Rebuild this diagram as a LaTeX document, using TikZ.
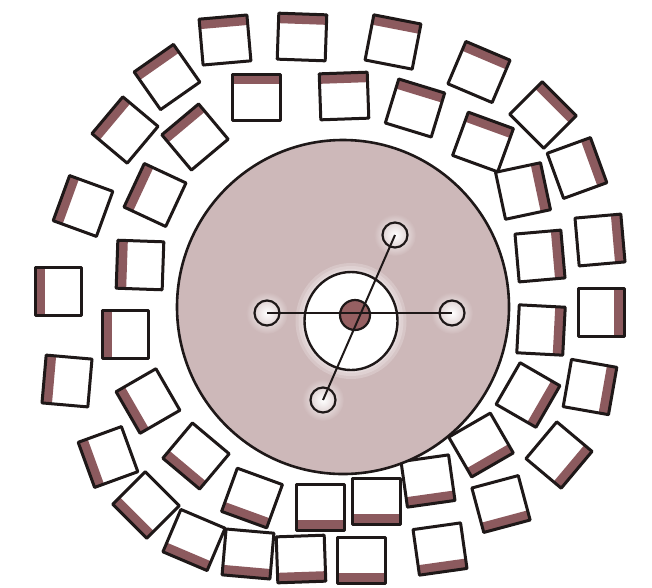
\documentclass[tikz,border=0pt]{standalone}
\definecolor{discfill}{RGB}{205,184,185}
\definecolor{bandc}{RGB}{140,90,94}
\definecolor{dotc}{RGB}{150,96,98}
\definecolor{ink}{RGB}{30,24,24}
\tikzset{
  chair/.pic={
    \fill[bandc] (13,-24) rectangle (23,24);
    \draw[ink, line width=3pt, line join=round] (-23,-24) -- (23,-24) -- (23,24) -- (-23,24) -- cycle;
  },
  hole/.style={circle, draw=ink, line width=2.2pt, minimum size=25pt, inner sep=0pt},
  spoke/.style={draw=ink, line width=2pt},
}
\begin{document}
\begin{tikzpicture}[x=1pt,y=-1pt]
\useasboundingbox (0,0) rectangle (652,587);
\fill[white] (0,0) rectangle (652,587);

% chairs: outer ring
\foreach \x/\y/\a in {225/40/95, 302/37/88, 393/42/79, 479/72/67, 543/115/45,
  577/168/20, 600/240/5, 601/312/0, 590/387/-10, 559/455/-40, 501/504/-75,
  440/549/-82, 361/560/-90, 301/559/-88, 248/554/-95, 194/540/-113,
  146/505/-135, 108/457/-160, 67/381/175, 58/291/180, 83/206/160,
  125/130/140, 167/77/125}
  \pic[rotate=\a] at (\x,\y) {chair};
% chairs: inner ring
\foreach \x/\y/\a in {256/97/90, 344/96/92, 415/108/73, 483/142/70, 523/191/12,
  540/256/5, 541/330/-3, 528/395/-30, 481/445/-60, 428/481/-82, 376/501/-90,
  320/507/-90, 252/498/-110, 196/456/-130, 148/401/-150, 125/334/180,
  140/265/178, 155/195/155, 195/137/130}
  \pic[rotate=\a] at (\x,\y) {chair};

% central disc
\draw[ink, line width=2.6pt, fill=discfill] (343,307) ellipse[x radius=166, y radius=167];

% glow around centre
\foreach \r in {58,55,52}
  \fill[white, opacity=0.2] (351,321) ellipse[x radius=\r-2.5, y radius=\r];
\fill[white] (351,321) ellipse[x radius=46.5, y radius=49];
\draw[ink, line width=2.4pt] (351,321) ellipse[x radius=46.5, y radius=49];

% glows around holes
\foreach \p in {(267,313),(452,313),(395,235),(323,400)}
  \shade[inner color=white, outer color=discfill] \p circle (21);

% centre dot
\node[circle, draw=ink, line width=2.2pt, fill=dotc, minimum size=30pt, inner sep=0pt] (hub) at (355,315) {};

% holes
\node[hole] (L) at (267,313) {};
\node[hole] (R) at (452,313) {};
\node[hole] (T) at (395,235) {};
\node[hole] (B) at (323,400) {};

% spokes
\draw[spoke] (L.center) -- (R.center);
\draw[spoke] (T.center) -- (B.center);
\end{tikzpicture}
\end{document}
